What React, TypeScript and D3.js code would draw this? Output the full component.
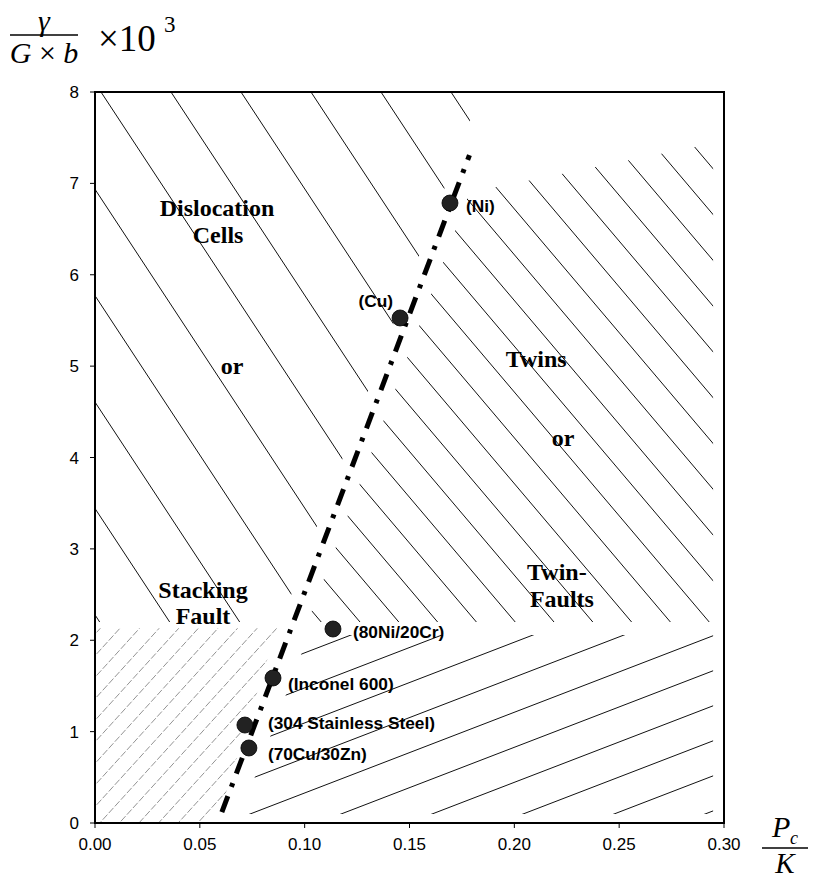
import React from 'react';
import * as d3 from 'd3';

// ---------- data ----------
const xTicks = [0, 0.05, 0.1, 0.15, 0.2, 0.25, 0.3];
const yTicks = [0, 1, 2, 3, 4, 5, 6, 7, 8];
const materials = ['(Ni)', '(Cu)', '(80Ni/20Cr)', '(Inconel 600)', '(304 Stainless Steel)', '(70Cu/30Zn)'];
const pcOverK = [0.1693, 0.1455, 0.1135, 0.0849, 0.0715, 0.0734];
const energyRatio = [6.785, 5.527, 2.123, 1.587, 1.072, 0.821];
const trendX = [0.0605, 0.1786];
const trendY = [0.12, 7.31];

// region outlines (data units)
const regionUpperLeft: [number, number][] = [[0, 8], [0.184, 8], [0.0887, 2.2], [0, 2.2]];
const regionTwins: [number, number][] = [[0.1014, 2.2], [0.1786, 6.9], [0.2948, 7.44], [0.2948, 2.2]];
const regionLowerRight: [number, number][] = [[0.1018, 2.057], [0.2948, 2.057], [0.2948, 0.098], [0.0696, 0.098]];
const regionLowerLeft: [number, number][] = [[0, 0], [0, 2.13], [0.0868, 2.13], [0.058, 0]];

const regionLabels = ['Dislocation', 'Cells', 'or', 'Twins', 'or', 'Twin-', 'Faults', 'Stacking', 'Fault'];
const regionLabelX = [0.0582, 0.0587, 0.0654, 0.2104, 0.2232, 0.2203, 0.2227, 0.0515, 0.0515];
const regionLabelY = [6.64, 6.35, 4.91, 4.99, 4.13, 2.66, 2.36, 2.46, 2.18];

// ---------- layout ----------
const W = 816;
const H = 878;
const x = d3.scaleLinear().domain([0, 0.3]).range([95, 724]);
const y = d3.scaleLinear().domain([0, 8]).range([823, 92]);

const labelOffsets: Record<string, { dx: number; dy: number; anchor: string }> = {
  '(Ni)': { dx: 16, dy: 9, anchor: 'start' },
  '(Cu)': { dx: -7, dy: -11, anchor: 'end' },
  '(80Ni/20Cr)': { dx: 20, dy: 9, anchor: 'start' },
  '(Inconel 600)': { dx: 15, dy: 12, anchor: 'start' },
  '(304 Stainless Steel)': { dx: 23, dy: 4, anchor: 'start' },
  '(70Cu/30Zn)': { dx: 19, dy: 12, anchor: 'start' },
};

function hatch(ax: number, ay: number, slope: number, spacing: number, n0: number, n1: number) {
  const segs: string[] = [];
  for (let k = n0; k <= n1; k++) {
    const x0 = ax + k * spacing;
    const xa = -200, xb = W + 200;
    segs.push(`M${xa},${ay + slope * (xa - x0)}L${xb},${ay + slope * (xb - x0)}`);
  }
  return segs.join('');
}

const poly = (pts: [number, number][]) =>
  pts.map((p) => `${x(p[0])},${y(p[1])}`).join(' ');

export default function App() {
  const points = materials.map((m, i) => ({ name: m, px: pcOverK[i], py: energyRatio[i] }));
  const trend = d3.line<number>().x((d, i) => x(trendX[i])).y((d, i) => y(trendY[i]))([0, 1]) || '';
  const sans = 'Arial, "Liberation Sans", Helvetica, sans-serif';
  const serif = '"Times New Roman", "Liberation Serif", Times, serif';

  return (
    <svg width={W} height={H} style={{ position: 'absolute', left: 0, top: 0, background: '#fff' }}>
      <defs>
        <clipPath id="cUL"><polygon points={poly(regionUpperLeft)} /></clipPath>
        <clipPath id="cTW"><polygon points={poly(regionTwins)} /></clipPath>
        <clipPath id="cLR"><polygon points={poly(regionLowerRight)} /></clipPath>
        <clipPath id="cLL"><polygon points={poly(regionLowerLeft)} /></clipPath>
      </defs>
      <rect width={W} height={H} fill="#fff" />

      {/* hatching */}
      <path d={hatch(101, 92, 1.52, 70, -12, 8)} clipPath="url(#cUL)" stroke="#111" strokeWidth={1} fill="none" />
      <path d={hatch(360, 622, 1.18, 38.8, -20, 20)} clipPath="url(#cTW)" stroke="#111" strokeWidth={1} fill="none" />
      <path d={hatch(533, 635, -0.385, 91, -12, 12)} clipPath="url(#cLR)" stroke="#111" strokeWidth={1} fill="none" />
      <path d={hatch(277, 628, -1.1, 19.6, -30, 20)} clipPath="url(#cLL)" stroke="#777" strokeWidth={0.8} strokeDasharray="7 2" fill="none" />

      {/* frame */}
      <rect x={x(0)} y={y(8)} width={x(0.3) - x(0)} height={y(0) - y(8)} fill="none" stroke="#000" strokeWidth={2} />

      {/* ticks */}
      {yTicks.map((t) => (
        <g key={'y' + t}>
          <line x1={x(0) - 5} x2={x(0)} y1={y(t)} y2={y(t)} stroke="#000" strokeWidth={1} />
          <text x={79} y={y(t) + 6} textAnchor="end" fontFamily={sans} fontSize={17}>{t}</text>
        </g>
      ))}
      {xTicks.map((t) => (
        <g key={'x' + t}>
          <line x1={x(t)} x2={x(t)} y1={y(0)} y2={y(0) + 5} stroke="#000" strokeWidth={1} />
          <text x={x(t)} y={y(0) + 27} textAnchor="middle" fontFamily={sans} fontSize={17}>{t.toFixed(2)}</text>
        </g>
      ))}

      {/* trend line */}
      <path d={trend} stroke="#000" strokeWidth={5} strokeDasharray="17 10 4 10" fill="none" />

      {/* points */}
      {points.map((p) => {
        const o = labelOffsets[p.name];
        return (
          <g key={p.name}>
            <circle cx={x(p.px)} cy={y(p.py)} r={8} fill="#222" stroke="#000" strokeWidth={0.8} />
            <text x={x(p.px) + o.dx} y={y(p.py) + o.dy} textAnchor={o.anchor} fontFamily={sans} fontWeight="bold" fontSize={17.3}>{p.name}</text>
          </g>
        );
      })}

      {/* region labels */}
      {regionLabels.map((t, i) => (
        <text key={'r' + i} x={x(regionLabelX[i])} y={y(regionLabelY[i])} textAnchor="middle" fontFamily={serif} fontWeight="bold" fontSize={24}>{t}</text>
      ))}

      {/* y-axis label */}
      <g fontFamily={serif}>
        <text x={44} y={31} textAnchor="middle" fontStyle="italic" fontSize={30}>γ</text>
        <line x1={10} x2={78} y1={35} y2={35} stroke="#000" strokeWidth={1.5} />
        <text x={44} y={63} textAnchor="middle" fontSize={30}>
          <tspan fontStyle="italic">G</tspan> × <tspan fontStyle="italic">b</tspan>
        </text>
        <text x={98} y={51} fontSize={37}>×10</text>
        <text x={164} y={32} fontSize={23}>3</text>
      </g>

      {/* x-axis label */}
      <g fontFamily={serif}>
        <text x={772} y={837} fontStyle="italic" fontSize={30}>P</text>
        <text x={790} y={844} fontStyle="italic" fontSize={18}>c</text>
        <line x1={762} x2={808} y1={848} y2={848} stroke="#000" strokeWidth={1.5} />
        <text x={785} y={873} textAnchor="middle" fontStyle="italic" fontSize={29}>K</text>
      </g>
    </svg>
  );
}
